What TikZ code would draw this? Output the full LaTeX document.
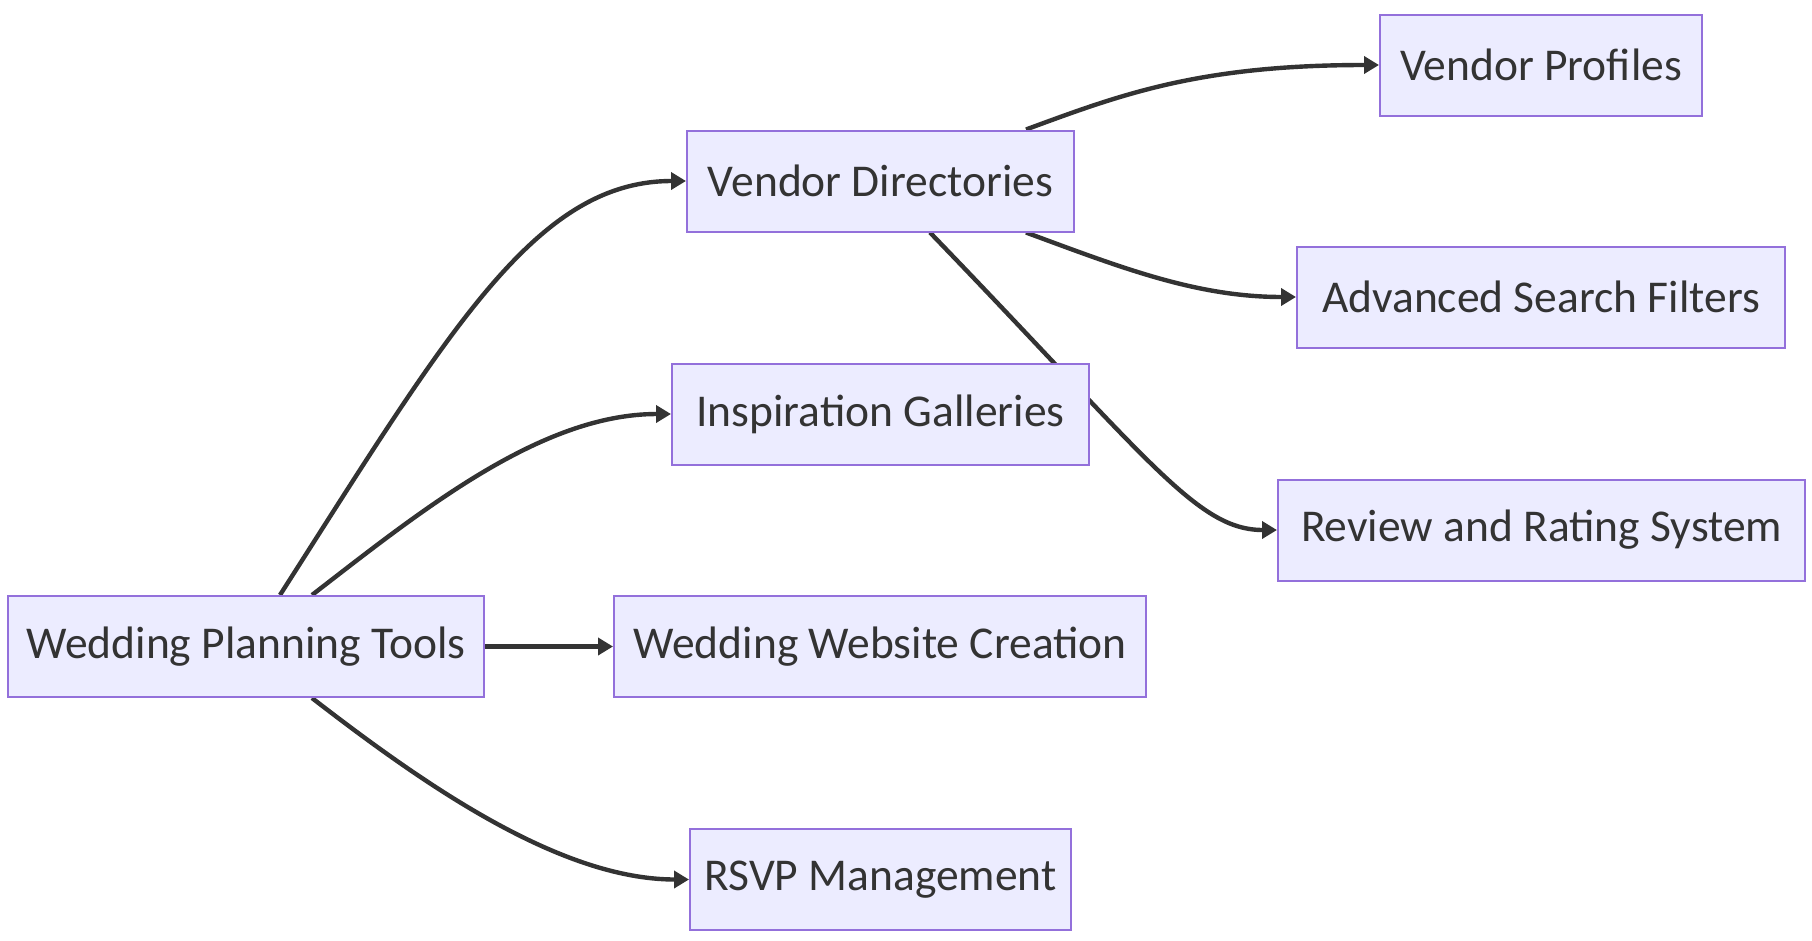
\documentclass[tikz,border=0pt]{standalone}
\usepackage{fontspec}
\setmainfont{Carlito}
\usetikzlibrary{arrows.meta,backgrounds}
\definecolor{nodefill}{HTML}{ECECFF}
\definecolor{nodeborder}{HTML}{9370DB}
\definecolor{edgecol}{HTML}{333333}
\begin{document}
\begin{tikzpicture}[x=1pt,y=-1pt,
  box/.style={draw=nodeborder,fill=nodefill,line width=2pt,minimum height=101pt,inner sep=0pt,
    text=edgecol,font=\fontsize{45.5}{52}\selectfont},
  link/.style={draw=edgecol,line width=4.4pt,-{Triangle[length=15pt,width=17pt]}}]
\path[use as bounding box] (0,0) rectangle (1812,940);
\node[box,minimum width=476pt] (wpt) at (246,646.5) {Wedding Planning Tools};
\node[box,minimum width=387pt] (vd) at (880.5,181) {Vendor Directories};
\node[box,minimum width=417pt] (ig) at (880.5,414) {Inspiration Galleries};
\node[box,minimum width=532pt] (wwc) at (880,646.5) {Wedding Website Creation};
\node[box,minimum width=381pt] (rsvp) at (880.5,879.5) {RSVP Management};
\node[box,minimum width=322pt] (vp) at (1541,65) {Vendor Profiles};
\node[box,minimum width=488pt] (asf) at (1541,297) {Advanced Search Filters};
\node[box,minimum width=527pt] (rrs) at (1541.5,530) {Review and Rating System};
\begin{scope}[on background layer]
\draw[link] ([xshift=34pt]wpt.north) .. controls +(170,-266) and +(-150,0) .. (vd.west);
\draw[link] ([xshift=66pt]wpt.north) .. controls +(110,-85) and +(-130,0) .. (ig.west);
\draw[link] (wpt.east) -- (wwc.west);
\draw[link] ([xshift=66pt]wpt.south) .. controls +(110,85) and +(-130,0) .. (rsvp.west);
\draw[link] ([xshift=145.5pt]vd.north) .. controls +(95,-35) and +(-180,0) .. (vp.west);
\draw[link] ([xshift=145.5pt]vd.south) .. controls +(95,35) and +(-100,0) .. (asf.west);
\draw[link] ([xshift=49.5pt]vd.south) .. controls +(220,228) and +(-80,0) .. (rrs.west);
\end{scope}
\end{tikzpicture}
\end{document}
